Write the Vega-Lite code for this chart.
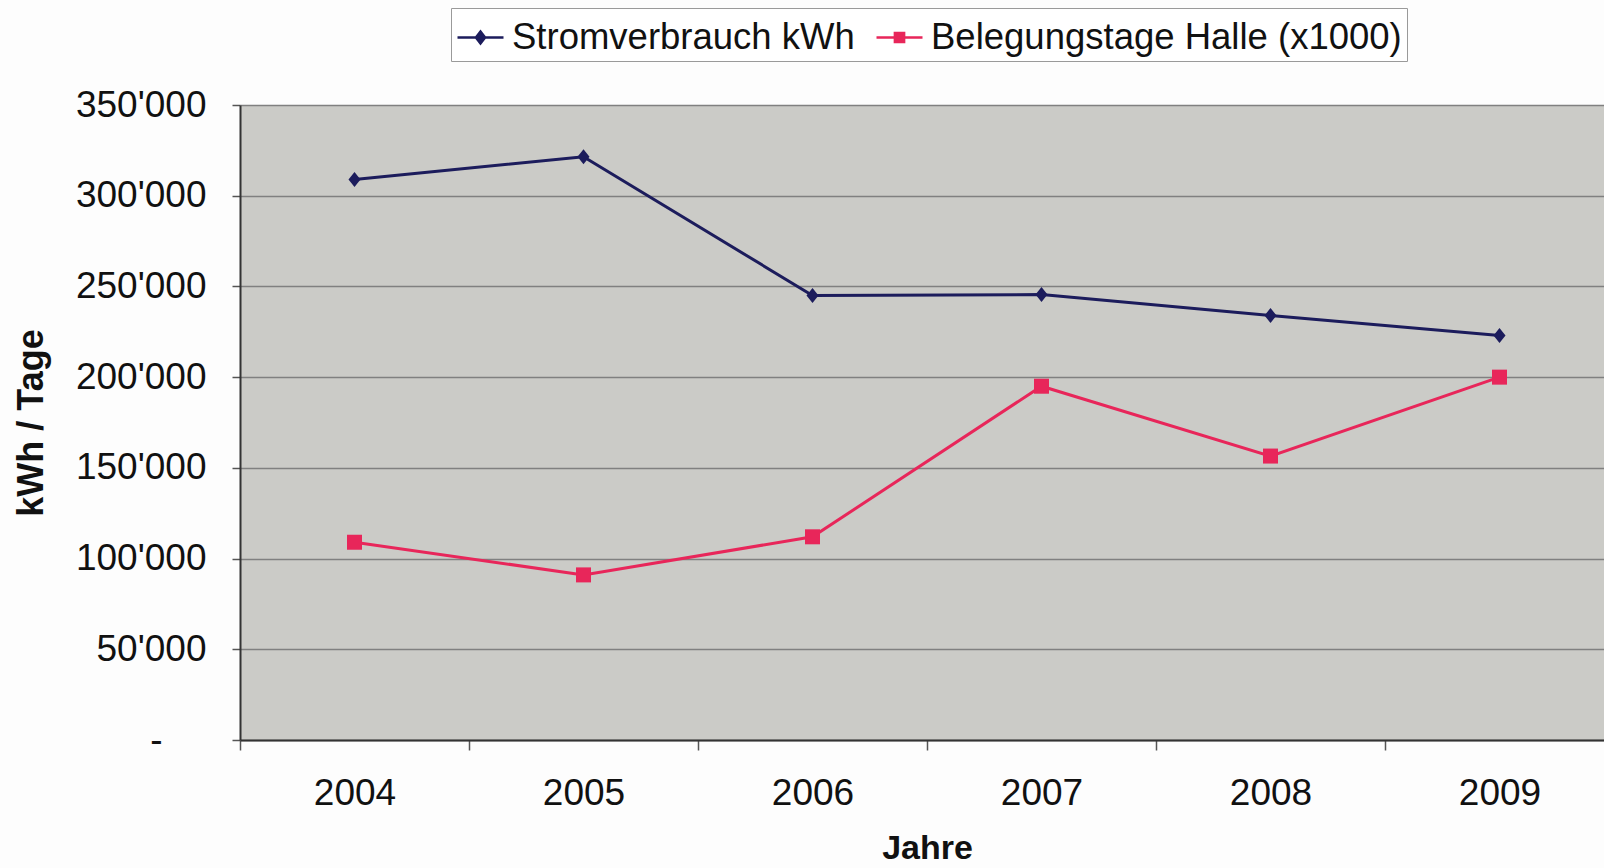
{
  "$schema": "https://vega.github.io/schema/vega-lite/v6.json",
  "width": 1364,
  "height": 635,
  "autosize": {"type": "none"},
  "padding": {"left": 240, "top": 105, "right": 0, "bottom": 128},
  "background": "#fdfdfd",
  "config": {
    "font": "Liberation Sans",
    "view": {"fill": "#cbcbc7", "stroke": null}
  },
  "data": {
    "values": [
      {"Jahr": "2004", "Serie": "Stromverbrauch kWh", "Wert": 309000},
      {"Jahr": "2005", "Serie": "Stromverbrauch kWh", "Wert": 321500},
      {"Jahr": "2006", "Serie": "Stromverbrauch kWh", "Wert": 245000},
      {"Jahr": "2007", "Serie": "Stromverbrauch kWh", "Wert": 245500},
      {"Jahr": "2008", "Serie": "Stromverbrauch kWh", "Wert": 234000},
      {"Jahr": "2009", "Serie": "Stromverbrauch kWh", "Wert": 223000},
      {"Jahr": "2004", "Serie": "Belegungstage Halle (x1000)", "Wert": 109000},
      {"Jahr": "2005", "Serie": "Belegungstage Halle (x1000)", "Wert": 91000},
      {"Jahr": "2006", "Serie": "Belegungstage Halle (x1000)", "Wert": 112000},
      {"Jahr": "2007", "Serie": "Belegungstage Halle (x1000)", "Wert": 195000},
      {"Jahr": "2008", "Serie": "Belegungstage Halle (x1000)", "Wert": 156500},
      {"Jahr": "2009", "Serie": "Belegungstage Halle (x1000)", "Wert": 200000}
    ]
  },
  "encoding": {
    "x": {
      "field": "Jahr",
      "type": "ordinal",
      "scale": {"type": "band", "range": [0, 1374], "paddingInner": 0, "paddingOuter": 0},
      "axis": {
        "title": "Jahre",
        "titleFontSize": 34,
        "titleFontWeight": "bold",
        "titleColor": "#111111",
        "titlePadding": 20,
        "labelAngle": 0,
        "labelFontSize": 37,
        "labelColor": "#111111",
        "labelPadding": 25,
        "tickBand": "extent",
        "tickSize": 10,
        "tickColor": "#555555",
        "tickWidth": 1.5,
        "domainColor": "#333333",
        "domainWidth": 2,
        "grid": false
      }
    },
    "y": {
      "field": "Wert",
      "type": "quantitative",
      "scale": {"domain": [0, 350000], "nice": false},
      "axis": {
        "title": "kWh / Tage",
        "titleFontSize": 36,
        "titleFontWeight": "bold",
        "titleColor": "#111111",
        "titlePadding": 25,
        "values": [0, 50000, 100000, 150000, 200000, 250000, 300000, 350000],
        "labelExpr": "datum.value == 0 ? '-' : replace(format(datum.value, ','), ',', \"'\")",
        "labelFontSize": 37,
        "labelColor": "#111111",
        "labelPadding": {"condition": {"test": "datum.value == 0", "value": 70}, "value": 26},
        "tickSize": 8,
        "tickColor": "#555555",
        "tickWidth": 1.5,
        "domainColor": "#333333",
        "domainWidth": 2,
        "grid": true,
        "gridColor": "#808080",
        "gridWidth": 1.5
      }
    },
    "color": {
      "field": "Serie",
      "type": "nominal",
      "scale": {
        "domain": ["Stromverbrauch kWh", "Belegungstage Halle (x1000)"],
        "range": ["#1c1c5c", "#e8265a"]
      },
      "legend": {
        "title": null,
        "orient": "none",
        "legendX": 211,
        "legendY": -97,
        "direction": "horizontal",
        "strokeColor": "#9a9a9a",
        "fillColor": "#ffffff",
        "padding": 5,
        "labelFontSize": 36.5,
        "labelLimit": 800,
        "labelColor": "#111111",
        "labelOffset": 7,
        "columnPadding": 16,
        "symbolSize": 2116,
        "symbolStrokeWidth": 2.5,
        "encode": {
          "symbols": {
            "update": {
              "shape": {"signal": "datum.value == 'Stromverbrauch kWh' ? 'M-1,0H1M-0.2,0L0,-0.26L0.2,0L0,0.26Z' : 'M-1,0H1M-0.2,-0.2H0.2V0.2H-0.2Z'"},
              "fill": {"signal": "scale('color', datum.value)"},
              "stroke": {"signal": "scale('color', datum.value)"},
              "strokeWidth": {"value": 2.5},
              "opacity": {"value": 1}
            }
          }
        }
      }
    }
  },
  "layer": [
    {"mark": {"type": "line", "strokeWidth": 3}},
    {
      "mark": {"type": "point", "filled": true, "opacity": 1},
      "encoding": {
        "shape": {
          "condition": {"test": "datum.Serie == 'Stromverbrauch kWh'", "value": "M-0.8,0L0,-1L0.8,0L0,1Z"},
          "value": "square"
        },
        "size": {"value": 225}
      }
    }
  ]
}
